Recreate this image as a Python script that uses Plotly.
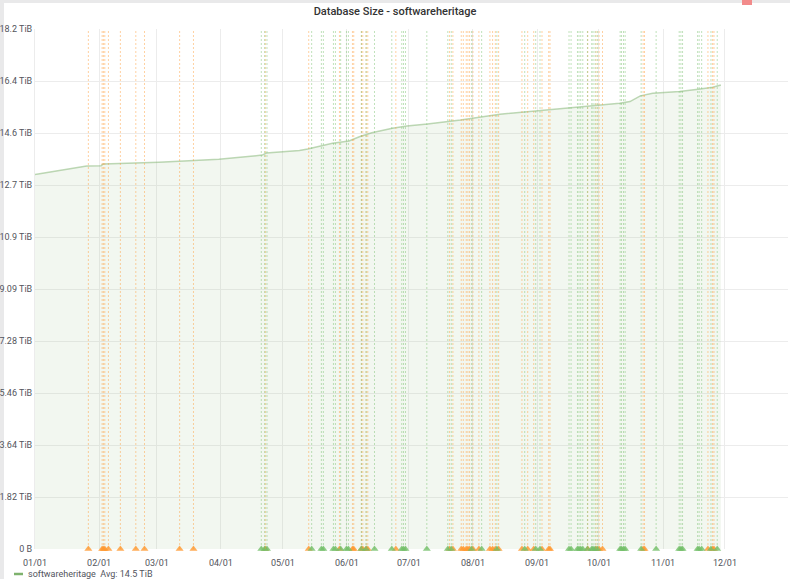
import plotly.graph_objects as go

# ---- data ----
size_dates = ["2019-01-01", "2019-01-26", "2019-02-02", "2019-02-03", "2019-03-02", "2019-03-31",
              "2019-04-21", "2019-04-23", "2019-05-09", "2019-05-13", "2019-05-25", "2019-06-02",
              "2019-06-07", "2019-06-13", "2019-06-23", "2019-06-30", "2019-07-10", "2019-07-21",
              "2019-07-26", "2019-08-14", "2019-09-02", "2019-09-17", "2019-10-01", "2019-10-11",
              "2019-10-16", "2019-10-21", "2019-10-27", "2019-11-09", "2019-11-19", "2019-11-25",
              "2019-11-29"]
size_tib = [13.10, 13.40, 13.41, 13.47, 13.53, 13.63,
            13.78, 13.85, 13.94, 13.99, 14.19, 14.27,
            14.42, 14.56, 14.72, 14.80, 14.87, 14.97,
            15.01, 15.21, 15.33, 15.44, 15.53, 15.59,
            15.65, 15.85, 15.94, 16.00, 16.09, 16.15,
            16.23]

orange_events = ["2019-01-26 20:00", "2019-02-02 12:00", "2019-02-03 03:00", "2019-02-03 19:00",
                 "2019-02-05 13:00", "2019-02-11 08:00", "2019-02-18 19:00", "2019-02-23 00:00",
                 "2019-03-12 00:00", "2019-03-18 17:00", "2019-04-22 12:00", "2019-05-13 12:00",
                 "2019-05-28 09:00", "2019-06-03 16:00", "2019-06-04 07:00", "2019-06-08 00:00",
                 "2019-06-08 16:00", "2019-06-10 07:00", "2019-06-11 02:00", "2019-06-24 16:00",
                 "2019-07-20 16:00", "2019-07-22 07:00", "2019-07-26 08:00", "2019-07-27 08:00",
                 "2019-07-28 18:00", "2019-07-29 13:00", "2019-07-30 09:00", "2019-08-01 00:00",
                 "2019-08-03 21:00", "2019-08-09 05:00", "2019-08-10 12:00", "2019-08-11 20:00",
                 "2019-08-13 10:00", "2019-08-24 17:00", "2019-08-27 12:00", "2019-08-30 10:00",
                 "2019-09-03 10:00", "2019-09-06 16:00", "2019-09-07 07:00", "2019-09-25 14:00",
                 "2019-09-29 14:00", "2019-10-01 01:00", "2019-10-02 17:00", "2019-10-22 09:00",
                 "2019-10-23 01:00", "2019-11-22 18:00", "2019-11-25 00:00", "2019-11-25 16:00"]

green_events = ["2019-04-20 13:00", "2019-04-22 04:00", "2019-04-23 07:00", "2019-05-14 22:00",
                "2019-05-19 15:00", "2019-05-20 14:00", "2019-05-25 11:00", "2019-05-26 10:00",
                "2019-05-28 23:00", "2019-05-31 18:00", "2019-06-01 17:00", "2019-06-08 00:00",
                "2019-06-10 07:00", "2019-06-14 08:00", "2019-06-22 17:00", "2019-06-27 13:00",
                "2019-06-28 09:00", "2019-06-29 08:00", "2019-07-09 16:00", "2019-07-19 20:00",
                "2019-07-21 12:00", "2019-07-31 08:00", "2019-08-05 05:00", "2019-08-12 14:00",
                "2019-08-26 01:00", "2019-08-31 09:00", "2019-09-02 11:00", "2019-09-16 12:00",
                "2019-09-17 12:00", "2019-09-20 14:00", "2019-09-21 08:00", "2019-09-22 04:00",
                "2019-09-23 04:00", "2019-09-25 10:00", "2019-09-27 12:00", "2019-09-28 03:00",
                "2019-09-29 03:00", "2019-09-30 06:00", "2019-10-11 06:00", "2019-10-11 22:00",
                "2019-10-12 21:00", "2019-10-13 16:00", "2019-10-21 10:00", "2019-10-28 16:00",
                "2019-11-08 20:00", "2019-11-09 16:00", "2019-11-10 11:00", "2019-11-17 18:00",
                "2019-11-18 12:00", "2019-11-19 17:00", "2019-11-24 05:00", "2019-11-27 06:00"]

y_tick_vals = [0, 1.819, 3.638, 5.457, 7.276, 9.095, 10.914, 12.733, 14.552, 16.371, 18.19]
y_tick_text = ["0 B", "1.82 TiB", "3.64 TiB", "5.46 TiB", "7.28 TiB", "9.09 TiB",
               "10.9 TiB", "12.7 TiB", "14.6 TiB", "16.4 TiB", "18.2 TiB"]

series_name = "softwareheritage"
legend_text = "softwareheritage  Avg: 14.5 TiB"
title_text = "Database Size - softwareheritage"

# ---- styles ----
FONT = "Roboto, Helvetica, Arial, sans-serif"
TXT = "#52545c"
ORANGE_LINE = "rgba(255,152,48,0.45)"
GREEN_LINE = "rgba(115,191,105,0.45)"
ORANGE_MK = "rgba(255,152,48,0.8)"
GREEN_MK = "rgba(115,191,105,0.8)"

PW = 753.0  # plot width px
PH = 520.0  # plot height px

fig = go.Figure()

fig.add_trace(go.Scatter(
    x=size_dates, y=size_tib, mode="lines", name=series_name,
    line=dict(color="rgba(126,178,109,0.5)", width=1.5),
    fill="tozeroy", fillcolor="rgba(126,178,109,0.10)",
    showlegend=False, hoverinfo="x+y"))

shapes = []
for d in orange_events:
    shapes.append(dict(type="line", xref="x", yref="paper", x0=d, x1=d, y0=0, y1=1,
                       line=dict(color=ORANGE_LINE, width=1, dash="2px,2px"), layer="above"))
for d in green_events:
    shapes.append(dict(type="line", xref="x", yref="paper", x0=d, x1=d, y0=0, y1=1,
                       line=dict(color=GREEN_LINE, width=1, dash="2px,2px"), layer="above"))

fig.add_trace(go.Scatter(
    x=orange_events, y=[0] * len(orange_events), mode="markers",
    marker=dict(symbol="triangle-up", size=7, color=ORANGE_MK, line=dict(width=0)),
    cliponaxis=False, showlegend=False, hoverinfo="x"))
fig.add_trace(go.Scatter(
    x=green_events, y=[0] * len(green_events), mode="markers",
    marker=dict(symbol="triangle-up", size=7, color=GREEN_MK, line=dict(width=0)),
    cliponaxis=False, showlegend=False, hoverinfo="x"))

# page chrome (grey strips and small red tab)
shapes += [
    dict(type="rect", xref="paper", yref="paper", x0=-35/PW, x1=755/PW, y0=546/PH, y1=552/PH,
         fillcolor="#e9e9ea", line=dict(width=0), layer="below"),
    dict(type="rect", xref="paper", yref="paper", x0=-35/PW, x1=-31/PW, y0=-31/PH, y1=552/PH,
         fillcolor="#e9e9ea", line=dict(width=0), layer="below"),
    dict(type="rect", xref="paper", yref="paper", x0=707/PW, x1=717/PW, y0=544/PH, y1=552/PH,
         fillcolor="#f28b8b", line=dict(width=0), layer="above"),
    # legend swatch
    dict(type="line", xref="paper", yref="paper", x0=-21/PW, x1=-12/PW, y0=-25/PH, y1=-25/PH,
         line=dict(color="#7EB26D", width=2.5)),
]

fig.update_layout(
    width=790, height=579,
    margin=dict(l=35, r=2, t=29, b=30, autoexpand=False),
    paper_bgcolor="white", plot_bgcolor="white",
    font=dict(family=FONT, size=9, color=TXT),
    title=dict(text=title_text, x=0.5, xref="container", y=1 - 11/579, yref="container",
               xanchor="center", yanchor="middle",
               font=dict(family=FONT, size=11, color="#333333", weight=500)),
    shapes=shapes,
    annotations=[dict(text=legend_text, xref="paper", yref="paper", x=-9/PW, y=-25/PH,
                      xanchor="left", yanchor="middle", showarrow=False,
                      font=dict(family=FONT, size=9, color=TXT))],
    showlegend=False,
    hovermode="closest",
)

fig.update_xaxes(
    type="date", range=["2019-01-01", "2019-12-31 12:00"],
    dtick="M1", tick0="2019-01-01", tickformat="%m/%d",
    showgrid=True, gridcolor="#ececec", gridwidth=1,
    showline=False, zeroline=False, automargin=False,
    ticks="outside", ticklen=5, tickcolor="rgba(0,0,0,0)",
    tickfont=dict(family=FONT, size=9, color=TXT),
)
fig.update_yaxes(
    range=[0, 18.19], tickvals=y_tick_vals, ticktext=y_tick_text,
    showgrid=True, gridcolor="#ececec", gridwidth=1,
    showline=True, linecolor="#ececec", linewidth=1,
    zeroline=False, ticks="", automargin=False,
    tickfont=dict(family=FONT, size=9, color=TXT),
)

fig.write_html(
    "out.html",
    config={"displayModeBar": False},
    post_script="document.body.style.margin='0';document.body.style.padding='0';"
                "document.documentElement.style.overflow='hidden';",
)
